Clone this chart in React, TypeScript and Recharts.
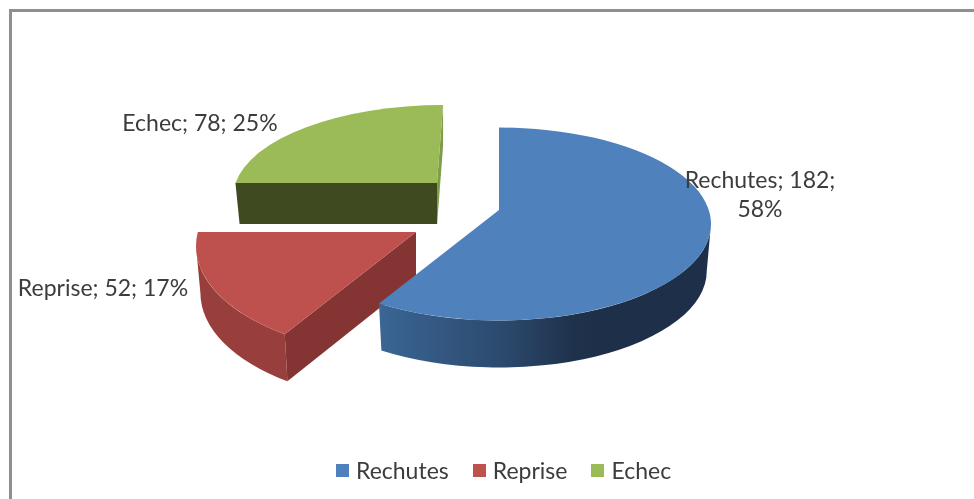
import { PieChart, Pie, Legend } from "recharts";

// drawn back to front, going anticlockwise from 12 o'clock, so the big slice lands on top
const categories = ["Echec", "Reprise", "Rechutes"];
const counts = [78, 52, 182];
const legendOrder = ["Rechutes", "Reprise", "Echec"];

const data = categories.map((name, i) => ({ name, value: counts[i] }));

const FONT = "Lato, 'Open Sans', sans-serif";
const FONT_SIZE = 23;
const TEXT_COLOR = "#3c3c3c";
const CX = 499;
const CY = 210;
const RADIUS = 212;
const RAY_SQUASH = 0.45; // flattening of the slice edges
const APEX_DROP = 14; // the tip sits above the centre of the ellipse
const BOTTOM_SHRINK = 0.98;

// how each slice is pulled out and shaded
const sliceStyle: Record<string, any> = {
  Rechutes: {
    dx: 0, dy: 0, rx: 212, ry: 96.5, depth: 47, lean: 0,
    top: "#4f81bd",
    wall: ["#3b6797", "#2c4a6e", "#1f324c", "#1e3049"],
    cutStart: null, cutEnd: null,
  },
  Reprise: {
    dx: -83, dy: 22, rx: 220, ry: 110, depth: 47, lean: 0,
    top: "#be504d",
    wall: ["#983f3d", "#a04341", "#a84745", "#a94846"],
    cutStart: "#843433", cutEnd: null,
  },
  Echec: {
    dx: -62, dy: -27, rx: 210, ry: 92, depth: 41, lean: 0.035, cxShift: 6,
    top: "#9bbb59",
    wall: ["#3f4a21", "#3f4a21", "#3f4a21", "#3f4a21"],
    cutStart: "#3f4a21", cutEnd: "#7f9c49",
  },
};

// where the label text goes, relative to the pie centre
const labelPlace: Record<string, { dx: number; dy: number; wrap: boolean }> = {
  Rechutes: { dx: 261, dy: -22, wrap: true },
  Reprise: { dx: -396, dy: 86, wrap: false },
  Echec: { dx: -299, dy: -79, wrap: false },
};

function Slice3D(props: any) {
  const { cx, cy, startAngle, endAngle, name, index } = props;
  const s = sliceStyle[name];
  const toRad = Math.PI / 180;
  const ax = cx + s.dx;
  const ay = cy + s.dy;
  const ex = ax + (s.cxShift ?? 0);
  const ey = ay + APEX_DROP;

  // follow a ray from the tip out to the rim of the ellipse
  const rim = (phi: number) => {
    const c = Math.cos(phi * toRad);
    const dirX = Math.sin(phi * toRad) + s.lean * Math.max(c, 0);
    const dirY = -RAY_SQUASH * c;
    const px = (ax - ex) / s.rx;
    const py = (ay - ey) / s.ry;
    const qx = dirX / s.rx;
    const qy = dirY / s.ry;
    const A = qx * qx + qy * qy;
    const B = 2 * (px * qx + py * qy);
    const C = px * px + py * py - 1;
    const k = (-B + Math.sqrt(B * B - 4 * A * C)) / (2 * A);
    return { x: ax + dirX * k, y: ay + dirY * k };
  };

  const phiA = 90 - endAngle;
  const phiB = 90 - startAngle;
  const p0 = rim(phiA);
  const p1 = rim(phiB);
  const param = (p: { x: number; y: number }) => Math.atan2((p.y - ey) / s.ry, (p.x - ex) / s.rx);
  const t0 = param(p0);
  let t1 = param(p1);
  if (t1 < t0) t1 += Math.PI * 2;
  const large = t1 - t0 > Math.PI ? 1 : 0;

  const onTop = (t: number) => ({ x: ex + s.rx * Math.cos(t), y: ey + s.ry * Math.sin(t) });
  const onBottom = (t: number) => ({
    x: ex + s.rx * BOTTOM_SHRINK * Math.cos(t),
    y: ey + s.depth + s.ry * Math.sin(t),
  });

  // only the front half of the rim shows a wall
  let w0 = t0;
  let w1 = t1;
  if (w0 < 0 && w1 > 0) w0 = 0;
  const wallVisible = w0 >= 0 && w0 < Math.PI;
  if (w1 > Math.PI) w1 = Math.PI;

  const wallPath = () => {
    const a = onTop(w0);
    const b = onTop(w1);
    const c = onBottom(w1);
    const d = onBottom(w0);
    return `M${a.x},${a.y} A${s.rx},${s.ry} 0 0 1 ${b.x},${b.y} L${c.x},${c.y} A${s.rx * BOTTOM_SHRINK},${s.ry} 0 0 0 ${d.x},${d.y} Z`;
  };

  const cutFace = (p: { x: number; y: number }, fill: string) => {
    const sink = (x: number) => ex + (x - ex) * BOTTOM_SHRINK;
    const pts = [
      `${ax},${ay}`,
      `${p.x},${p.y}`,
      `${sink(p.x)},${p.y + s.depth}`,
      `${sink(ax)},${ay + s.depth}`,
    ].join(" ");
    return <polygon points={pts} fill={fill} />;
  };

  const gradId = `wall-${index}`;
  return (
    <g>
      <defs>
        <linearGradient
          id={gradId}
          gradientUnits="userSpaceOnUse"
          x1={ex - s.rx * 0.6}
          x2={ex + s.rx * 0.45}
          y1={0}
          y2={0}
        >
          <stop offset="0%" stopColor={s.wall[0]} />
          <stop offset="58%" stopColor={s.wall[1]} />
          <stop offset="90%" stopColor={s.wall[2]} />
          <stop offset="100%" stopColor={s.wall[3]} />
        </linearGradient>
      </defs>
      {s.cutEnd && cutFace(p1, s.cutEnd)}
      {wallVisible && <path d={wallPath()} fill={`url(#${gradId})`} />}
      {s.cutStart && cutFace(p0, s.cutStart)}
      <path
        d={`M${ax},${ay} L${p0.x},${p0.y} A${s.rx},${s.ry} 0 ${large} 1 ${p1.x},${p1.y} Z`}
        fill={s.top}
      />
    </g>
  );
}

function renderLabel(props: any) {
  const { cx, cy, name, value, percent } = props;
  const place = labelPlace[name];
  const pct = `${Math.round(percent * 100)}%`;
  const x = cx + place.dx;
  const y = cy + place.dy;
  const common = { fontFamily: FONT, fontSize: FONT_SIZE, fill: TEXT_COLOR, textAnchor: "middle" as const };
  if (place.wrap) {
    return (
      <text x={x} y={y} {...common}>
        <tspan x={x}>{`${name}; ${value};`}</tspan>
        <tspan x={x} dy={29}>{pct}</tspan>
      </text>
    );
  }
  return (
    <text x={x} y={y} {...common}>
      {`${name}; ${value}; ${pct}`}
    </text>
  );
}

function LegendRow({ payload }: any) {
  const items = legendOrder.map((name) => (payload ?? []).find((p: any) => p.value === name)).filter(Boolean);
  return (
    <div style={{ display: "flex", alignItems: "center", fontFamily: FONT, fontSize: FONT_SIZE, color: TEXT_COLOR }}>
      {items.map((it: any) => (
        <span key={it.value} style={{ display: "flex", alignItems: "center", marginRight: 24 }}>
          <span
            style={{
              width: 13,
              height: 13,
              marginRight: 7,
              background: sliceStyle[it.value].top,
              display: "inline-block",
            }}
          />
          {it.value}
        </span>
      ))}
    </div>
  );
}

export default function App() {
  return (
    <div
      style={{
        position: "absolute",
        left: 0,
        top: 0,
        width: 974,
        height: 499,
        overflow: "hidden",
        background: "#fff",
        filter: "blur(0.5px)",
      }}
    >
      <div
        style={{
          position: "absolute",
          left: 9,
          top: 9,
          width: 965,
          height: 490,
          boxSizing: "border-box",
          borderTop: "3px solid #8f8f8f",
          borderLeft: "3px solid #8f8f8f",
        }}
      />
      <PieChart
        width={974}
        height={499}
        margin={{ top: 0, right: 0, bottom: 0, left: 0 }}
        style={{ position: "absolute", left: 0, top: 0 }}
      >
        <Pie
          data={data}
          dataKey="value"
          nameKey="name"
          cx={CX}
          cy={CY}
          outerRadius={RADIUS}
          startAngle={90}
          endAngle={450}
          stroke="none"
          shape={Slice3D}
          label={renderLabel}
          labelLine={false}
          isAnimationActive={false}
        />
        <Legend
          content={<LegendRow />}
          wrapperStyle={{ position: "absolute", left: 336, top: 456, width: 400, bottom: "auto" }}
        />
      </PieChart>
    </div>
  );
}
